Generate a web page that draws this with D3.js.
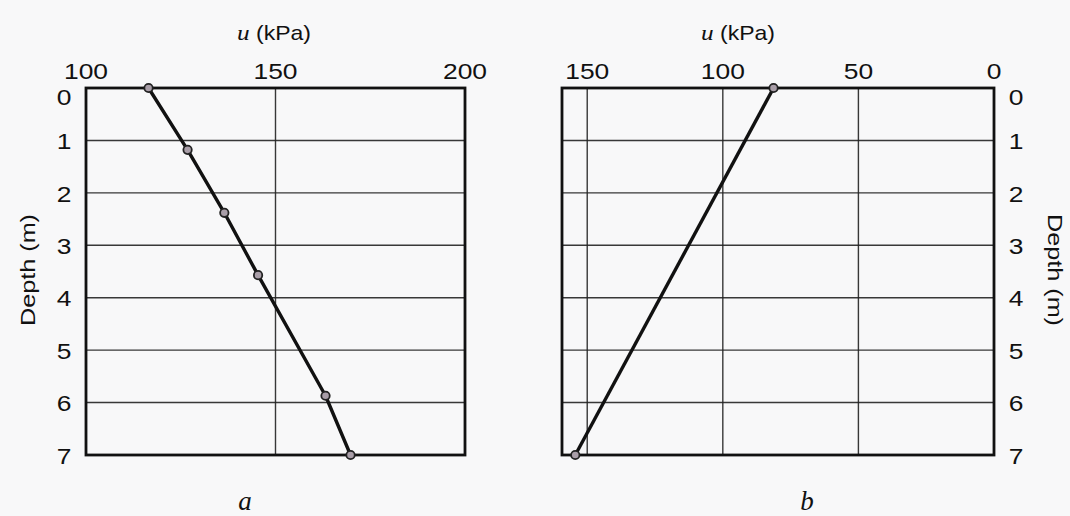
<!DOCTYPE html>
<html><head><meta charset="utf-8">
<script src="https://cdn.jsdelivr.net/npm/d3@7"></script>
<style>
html,body{margin:0;padding:0;background:#f8f8f9;}
svg{display:block;}
text{font-family:"Liberation Sans",Arial,sans-serif;fill:#111;}
</style></head>
<body><svg id="c" width="1070" height="516"></svg>
<script>
// Data
const depthTicks = [0,1,2,3,4,5,6,7];
const leftXTicks = [100,150,200];
const rightXTicks = [150,100,50,0];
const leftDepth = [0, 1.18, 2.38, 3.57, 5.87, 7];
const leftU = [116.5, 126.8, 136.5, 145.4, 163.2, 169.8];
const rightDepth = [0, 7];
const rightU = [81.3, 154.4];
const leftGridX = [150];
const rightGridX = [150,100,50];
const panelLabels = ["a","b"];

const svg = d3.select("#c");
const y = d3.scaleLinear().domain([0,7]).range([88,455]);
const xL = d3.scaleLinear().domain([100,200]).range([86,465]);
const xR = d3.scaleLinear().domain([159.3,0]).range([562,994]);

const SX = 1.2;
function stretchedText(g, x, yy, str, opts){
  const t = g.append("text")
    .attr("transform", `translate(${x},${yy}) ${opts.rotate?`rotate(${opts.rotate})`:""} scale(${SX},1)`)
    .attr("text-anchor", opts.anchor||"middle")
    .attr("dominant-baseline", opts.baseline||"auto")
    .style("font-size", (opts.size||21)+"px");
  t.text(str);
  return t;
}

function panel(x, gridX, xTicks, depth, u, side){
  const g = svg.append("g");
  const [x0,x1] = x.range();
  g.selectAll("line.hg").data(depthTicks.slice(1,-1)).join("line")
    .attr("x1",x0).attr("x2",x1).attr("y1",d=>y(d)).attr("y2",d=>y(d))
    .attr("stroke","#222").attr("stroke-width",1.4).attr("stroke-opacity",0.9);
  g.selectAll("line.vg").data(gridX).join("line")
    .attr("x1",d=>x(d)).attr("x2",d=>x(d)).attr("y1",y(0)).attr("y2",y(7))
    .attr("stroke","#222").attr("stroke-width",1.4).attr("stroke-opacity",0.9);
  g.append("rect").attr("x",x0).attr("y",y(0)).attr("width",x1-x0).attr("height",y(7)-y(0))
    .attr("fill","none").attr("stroke","#111").attr("stroke-width",2.8);
  xTicks.forEach(v=>{
    stretchedText(g, x(v), 79, String(v), {size:22});
  });
  depthTicks.forEach(d=>{
    const lx = side==="left" ? x0-22 : x1+22;
    const ly = y(d) + (d===0 ? 9 : 1);
    stretchedText(g, lx, ly, String(d), {size:22, baseline:"central"});
  });
  const pts = depth.map((d,i)=>[x(u[i]), y(d)]);
  g.append("path").attr("d", d3.line()(pts))
    .attr("fill","none").attr("stroke","#111").attr("stroke-width",3.4)
    .attr("stroke-linejoin","round");
  g.selectAll("circle").data(pts).join("circle")
    .attr("cx",d=>d[0]).attr("cy",d=>d[1]).attr("r",4.2)
    .attr("fill","#a99ea8").attr("stroke","#222").attr("stroke-width",1.8);
  return g;
}

panel(xL, leftGridX, leftXTicks, leftDepth, leftU, "left");
panel(xR, rightGridX, rightXTicks, rightDepth, rightU, "right");

function uTitle(cx){
  const t = svg.append("text").attr("transform",`translate(${cx},40) scale(1.15,1)`)
    .attr("text-anchor","middle").style("font-size","20px");
  t.append("tspan").style("font-family","'Liberation Serif',serif").style("font-style","italic").style("font-size","22px").text("u");
  t.append("tspan").text(" (kPa)");
}
uTitle(274);
uTitle(738);

stretchedText(svg, 28, 270, "Depth (m)", {size:21, rotate:-90, baseline:"central"});
stretchedText(svg, 1055, 270, "Depth (m)", {size:21, rotate:90, baseline:"central"});

[[245,"a"],[807,"b"]].forEach(([cx,l],i)=>{
  svg.append("text").attr("x",cx).attr("y",510).attr("text-anchor","middle")
    .style("font-family","'Liberation Serif',serif").style("font-style","italic")
    .style("font-size","27px").text(panelLabels[i]);
});
</script></body></html>
